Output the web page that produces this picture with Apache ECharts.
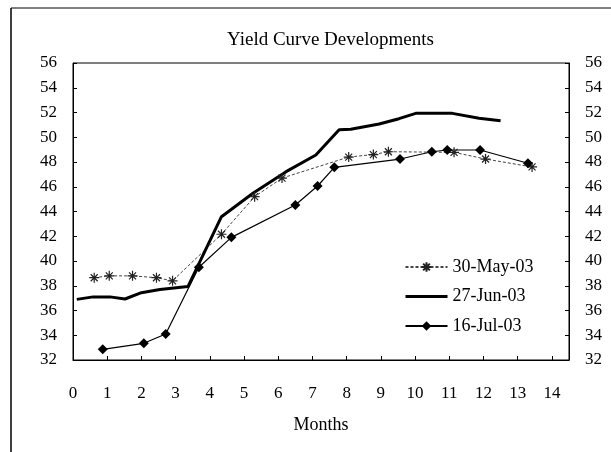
<!DOCTYPE html>
<html>
<head>
<meta charset="utf-8">
<script src="https://cdn.jsdelivr.net/npm/echarts@6/dist/echarts.min.js"></script>
<style>
  html, body { margin: 0; padding: 0; background: #fff; }
  #chart { width: 611px; height: 452px; }
</style>
</head>
<body>
<div id="chart"></div>
<script>
// 数据
var seriesNames = ['30-May-03', '27-Jun-03', '16-Jul-03'];

var may30X = [0.62, 1.06, 1.74, 2.44, 2.91, 4.34, 5.31, 6.11, 8.06, 8.78, 9.22, 11.14, 12.06, 13.42];
var may30Y = [38.65, 38.8, 38.8, 38.65, 38.4, 42.16, 45.2, 46.7, 48.4, 48.6, 48.83, 48.78, 48.24, 47.6];

var jun27X = [0.11, 0.59, 1.08, 1.52, 2.0, 2.54, 3.36, 4.34, 5.26, 6.23, 7.1, 7.78, 8.12, 8.95, 9.53, 10.02, 11.09, 11.87, 12.5];
var jun27Y = [36.9, 37.1, 37.1, 36.93, 37.44, 37.7, 37.93, 43.58, 45.47, 47.22, 48.57, 50.6, 50.64, 51.07, 51.5, 51.93, 51.93, 51.53, 51.34];

var jul16X = [0.87, 2.07, 2.71, 3.68, 4.63, 6.5, 7.15, 7.64, 9.56, 10.49, 10.94, 11.9, 13.3];
var jul16Y = [32.86, 33.35, 34.1, 39.49, 41.91, 44.53, 46.06, 47.57, 48.24, 48.83, 48.97, 48.97, 47.9];

function pairs(xs, ys) {
    var out = [];
    for (var i = 0; i < xs.length; i++) out.push([xs[i], ys[i]]);
    return out;
}

var serif = 'Liberation Serif';
var asterisk = 'path://M5 0L5 10M0 5L10 5M1.5 1.5L8.5 8.5M8.5 1.5L1.5 8.5';

var yAxisCommon = {
    type: 'value',
    min: 32,
    max: 56,
    interval: 2,
    axisLine: { show: true, lineStyle: { color: '#000', width: 1 } },
    axisTick: { show: true, inside: true, length: 4, lineStyle: { color: '#000' } },
    axisLabel: { color: '#000', fontFamily: serif, fontSize: 17, margin: 16 },
    splitLine: { show: false }
};

var option = {
    animation: false,
    backgroundColor: '#fff',
    title: {
        text: 'Yield Curve Developments',
        left: 222,
        top: 26,
        textStyle: { color: '#000', fontFamily: serif, fontSize: 19, fontWeight: 'normal' }
    },
    grid: {
        left: 73, top: 63, right: 42, bottom: 92,
        show: true, borderColor: '#000', borderWidth: 1, backgroundColor: 'transparent'
    },
    legend: {
        orient: 'vertical',
        left: 399,
        top: 253,
        itemWidth: 42,
        itemHeight: 12,
        itemGap: 11.5,
        data: [
            { name: seriesNames[0] },
            // 没有符号的线, 隐藏图例里的圆点
            {
                name: seriesNames[1],
                itemStyle: { color: 'rgba(0,0,0,0)', borderWidth: 0 },
                lineStyle: { width: 3, color: '#000' }
            },
            { name: seriesNames[2] }
        ],
        textStyle: { color: '#000', fontFamily: serif, fontSize: 18, lineHeight: 18 }
    },
    xAxis: {
        type: 'value',
        min: 0,
        max: 14.5,
        interval: 1,
        name: 'Months',
        nameLocation: 'middle',
        nameGap: 56,
        nameTextStyle: { color: '#000', fontFamily: serif, fontSize: 18 },
        axisLine: { show: true, lineStyle: { color: '#000', width: 1 } },
        axisTick: { show: true, inside: true, length: 4, lineStyle: { color: '#000' } },
        axisLabel: {
            color: '#000', fontFamily: serif, fontSize: 17, margin: 25,
            formatter: function (v) { return Math.round(v) === v ? String(v) : ''; }
        },
        splitLine: { show: false }
    },
    yAxis: [
        Object.assign({}, yAxisCommon, { position: 'left' }),
        Object.assign({}, yAxisCommon, { position: 'right' })
    ],
    series: [
        {
            name: seriesNames[0],
            type: 'line',
            data: pairs(may30X, may30Y),
            symbol: asterisk,
            symbolSize: 10,
            itemStyle: { color: 'none', borderColor: '#222', borderWidth: 1.2 },
            lineStyle: { color: '#444', width: 1, type: [3, 2] }
        },
        {
            name: seriesNames[1],
            type: 'line',
            data: pairs(jun27X, jun27Y),
            symbol: 'none',
            itemStyle: { color: '#000' },
            lineStyle: { color: '#000', width: 3 }
        },
        {
            name: seriesNames[2],
            type: 'line',
            data: pairs(jul16X, jul16Y),
            symbol: 'diamond',
            symbolSize: 10,
            itemStyle: { color: '#000' },
            lineStyle: { color: '#000', width: 1.2 }
        }
    ],
    graphic: [
        { type: 'line', shape: { x1: 11, y1: 8, x2: 611, y2: 8 }, style: { stroke: '#000', lineWidth: 1 } },
        { type: 'line', shape: { x1: 11, y1: 8, x2: 11, y2: 452 }, style: { stroke: '#000', lineWidth: 1.5 } }
    ]
};

var chart = echarts.init(document.getElementById('chart'));
chart.setOption(option);
</script>
</body>
</html>
